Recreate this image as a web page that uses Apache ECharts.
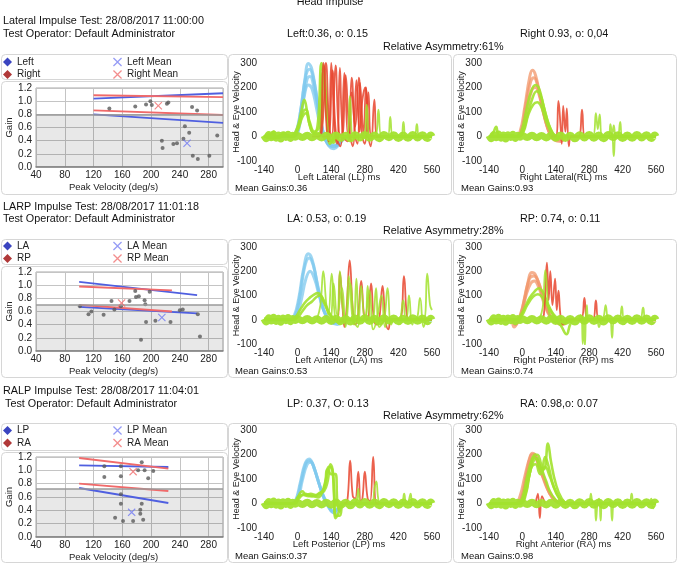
<!DOCTYPE html>
<html>
<head>
<meta charset="utf-8">
<title>Head Impulse</title>
<script src="https://cdn.jsdelivr.net/npm/echarts@6/dist/echarts.min.js"></script>
<style>
html,body{margin:0;padding:0;background:#fff;}
#main{width:683px;height:566px;}
</style>
</head>
<body>
<div id="main"></div>
<script>
// ---------- gain / peak velocity scatter data  [deg/s, gain]
var latPoints = [[142,0.89],[178,0.92],[193,0.95],[199,1.00],[201,0.94],[222,0.96],[224,0.98],[257,0.91],[264,0.86],[247,0.62],[253,0.52],[245,0.43],[215,0.40],[216,0.29],[231,0.35],[236,0.36],[258,0.17],[265,0.12],[281,0.17],[292,0.48]];
var latLeftMean = [[250,0.36]];
var latRightMean = [[210,0.93]];
var latLeftUpper = [[120,1.04],[300,1.12]];
var latLeftLower = [[120,0.80],[300,0.67]];
var latRightUpper = [[120,1.09],[300,1.06]];
var latRightLower = [[120,0.86],[300,0.79]];

var larpPoints = [[101,0.68],[113,0.56],[117,0.60],[134,0.55],[145,0.76],[149,0.63],[158,0.68],[170,0.76],[178,0.91],[179,0.82],[183,0.83],[186,0.17],[191,0.77],[192,0.71],[193,0.44],[198,0.90],[206,0.46],[227,0.44],[240,0.62],[244,0.63],[265,0.56],[268,0.22]];
var laMean = [[215,0.51]];
var rpMean = [[159,0.73]];
var laUpper = [[100,1.05],[264,0.85]];
var laLower = [[100,0.67],[264,0.57]];
var rpUpper = [[100,0.98],[229,0.92]];
var rpLower = [[100,0.70],[229,0.60]];

var ralpPoints = [[135,1.06],[135,0.90],[158,1.06],[158,0.91],[158,0.64],[158,0.50],[150,0.29],[161,0.24],[175,0.24],[182,1.00],[187,1.12],[191,1.00],[187,0.50],[185,0.41],[185,0.35],[189,0.26],[196,0.88],[203,0.99]];
var lpMean = [[173,0.37]];
var raMean = [[175,0.98]];
var lpUpper = [[100,1.075],[224,1.05]];
var lpLower = [[100,0.735],[224,0.51]];
var raUpper = [[100,1.185],[224,1.025]];
var raLower = [[100,0.80],[224,0.69]];

var shadeLimits = [0.8, 0.7, 0.72];

// ---------- velocity traces [ms, deg/s]
var baseNoise = [[-140,4],[-130,-9],[-120,8],[-110,-5],[-100,10],[-90,-7],[-80,6],[-70,-10],[-60,7],[-50,-4],[-40,9],[-30,-8],[-20,5],[-10,-3],[0,4],[20,-4],[40,5],[60,-5],[80,4],[100,-6],[120,5],[140,-7],[160,6],[180,-8],[200,5],[220,-9],[240,7],[260,-6],[280,8],[300,-7],[320,6],[340,-9],[360,8],[380,-5],[400,7],[420,-8],[440,6],[460,-7],[480,8],[500,-6],[520,7],[540,-8],[555,6],[560,0]];

// Left Lateral
var llHead = [
  [[-140,0],[-30,0],[-10,10],[10,90],[30,230],[45,298],[58,280],[75,190],[95,70],[112,0],[130,-38],[152,-50],[175,-30],[200,-5],[230,0],[560,0]],
  [[-140,0],[-25,0],[-5,15],[15,120],[35,250],[50,275],[65,240],[85,130],[105,20],[125,-30],[150,-42],[180,-20],[210,0],[560,0]],
  [[-140,0],[-20,0],[0,20],[20,130],[40,235],[52,245],[68,200],[90,90],[110,5],[135,-35],[160,-38],[190,-10],[220,0],[560,0]],
  [[-140,0],[-15,0],[5,30],[25,150],[45,210],[60,195],[80,110],[100,20],[125,-25],[155,-35],[185,-10],[210,0],[560,0]]
];
var llEye = [
  [[-140,5],[-120,-5],[-100,20],[-90,0],[-70,5],[-55,15],[-40,0],[-20,5],[0,40],[15,100],[28,150],[40,100],[55,30],[70,15],[85,60],[100,300],[112,220],[125,40],[140,-20],[160,5],[180,0],[560,0]],
  [[-140,0],[-110,10],[-80,-5],[-50,5],[-20,0],[0,30],[20,95],[35,110],[50,60],[70,20],[90,40],[105,260],[118,150],[130,10],[150,-25],[175,0],[560,0]],
  [[-140,0],[-100,-8],[-60,8],[-20,0],[0,25],[20,80],[35,95],[50,50],[70,10],[95,20],[108,290],[122,120],[135,-30],[155,-10],[180,0],[560,0]]
];
var llRed = [
  [[60,0],[90,0],[107,300],[122,20],[130,-20],[140,300],[155,20],[165,-30],[176,280],[190,0],[210,-20],[225,240],[240,0],[250,-30],[260,220],[275,10],[285,200],[300,-10],[310,0],[330,0]],
  [[80,0],[100,10],[118,300],[132,40],[142,0],[158,290],[172,20],[185,0],[200,250],[215,30],[230,-40],[245,230],[258,20],[270,150],[282,200],[295,0],[305,-40],[320,150],[332,0],[350,0]],
  [[100,0],[125,0],[145,270],[160,10],[178,-40],[195,260],[210,0],[225,180],[240,40],[255,240],[268,10],[280,-30],[295,180],[308,0],[330,0]]
];
var llSac = [
  [[180,0],[205,0],[218,165],[232,0],[275,0],[288,130],[302,-5],[325,0],[337,110],[350,0],[375,0],[386,80],[398,0],[430,0],[441,60],[452,0],[485,0],[497,50],[508,0],[560,0]]
];

// Right Lateral
var rlHead = [
  [[-140,0],[-30,0],[-10,20],[10,120],[30,240],[42,270],[55,250],[75,160],[95,70],[115,10],[135,-15],[160,-20],[190,0],[560,0]],
  [[-140,0],[-25,0],[-5,20],[15,130],[35,225],[48,240],[62,215],[85,120],[105,40],[125,0],[150,-15],[180,0],[560,0]],
  [[-140,0],[-20,0],[0,15],[20,110],[40,190],[55,200],[70,170],[90,90],[112,20],[135,-10],[165,0],[560,0]]
];
var rlEye = [
  [[-140,0],[-125,10],[-110,40],[-100,5],[-80,0],[-40,5],[-25,0],[-5,20],[15,100],[35,180],[55,210],[70,195],[90,120],[110,50],[130,10],[145,-10],[165,5],[190,0],[560,0]],
  [[-140,0],[-60,5],[-20,0],[0,15],[20,80],[40,150],[60,185],[75,170],[95,100],[118,30],[140,0],[560,0]],
  [[-140,0],[-15,0],[5,20],[25,90],[45,130],[62,140],[80,120],[100,60],[125,10],[150,-5],[175,0],[560,0]]
];
var rlRed = [
  [[120,0],[140,0],[151,145],[160,40],[165,-30],[171,125],[180,20],[186,115],[195,-40],[205,0],[235,0],[250,110],[262,0],[290,0]]
];
var rlSac = [
  [[260,0],[295,0],[308,95],[316,30],[324,90],[335,0],[360,0],[369,50],[376,5],[383,45],[392,0],[400,0],[410,60],[420,0],[460,0]],
  [[360,0],[374,0],[383,-80],[392,0],[405,0]]
];

// Left Anterior
var laHead = [
  [[-140,0],[-35,0],[-15,15],[5,90],[25,210],[45,272],[60,250],[80,160],[100,70],[120,15],[140,-10],[165,-20],[190,-5],[220,0],[560,0]],
  [[-140,0],[-30,0],[-10,15],[10,100],[30,220],[48,255],[65,225],[85,130],[105,50],[125,5],[150,-15],[180,-5],[210,0],[560,0]],
  [[-140,0],[-25,0],[-5,10],[15,80],[35,170],[52,200],[70,170],[90,100],[112,30],[135,0],[160,-10],[190,0],[560,0]]
];
var laEye = [
  [[-140,5],[-30,0],[-10,10],[10,40],[30,70],[50,90],[70,105],[85,110],[100,95],[118,60],[135,20],[155,0],[180,-5],[200,0],[560,0]],
  [[-140,0],[-20,0],[0,10],[20,35],[40,60],[60,75],[80,95],[95,100],[110,70],[130,30],[150,5],[170,-10],[195,0],[560,0]]
];
var laRed = [
  [[150,0],[165,0],[176,195],[188,40],[195,-30],[205,60],[217,245],[230,40],[240,-20],[252,20],[265,160],[278,10],[290,0],[306,150],[318,0],[330,-20],[340,0],[354,140],[366,0],[378,-40],[392,0],[425,0],[443,180],[455,20],[465,0],[560,0]]
];
var laSac = [
  [[80,0],[95,60],[107,200],[120,60],[128,20],[142,190],[155,20],[165,0],[176,200],[190,30],[200,0],[213,180],[228,10],[235,-20],[245,170],[260,0],[280,0],[292,140],[305,-10],[315,0],[327,130],[340,-30],[360,0],[375,130],[390,-20],[405,0],[450,0],[464,100],[478,-20],[490,0],[525,0],[540,190],[552,60],[560,40]],
  [[120,0],[135,0],[150,150],[165,20],[185,130],[200,-30],[220,150],[235,0],[250,-30],[265,140],[280,0],[300,120],[315,-40],[330,0],[350,100],[365,-30],[380,0],[420,0],[440,80],[455,0],[490,0],[510,90],[525,-30],[540,0],[560,0]]
];

// Right Posterior
var rpHead = [
  [[-140,0],[-50,0],[-35,-30],[-20,-10],[0,50],[20,140],[40,195],[55,185],[75,130],[95,70],[115,20],[135,0],[160,-20],[190,-10],[220,0],[560,0]],
  [[-140,0],[-40,0],[-30,-20],[-10,10],[10,90],[30,170],[48,180],[65,160],[85,100],[105,40],[128,0],[150,-10],[180,0],[560,0]],
  [[-140,0],[-25,0],[-5,20],[15,100],[35,150],[50,160],[70,130],[90,70],[112,20],[135,0],[560,0]]
];
var rpEye = [
  [[-140,5],[-110,-5],[-60,5],[-30,0],[-10,15],[10,50],[30,90],[50,115],[69,130],[85,115],[105,70],[125,30],[145,5],[165,-30],[185,-60],[200,-20],[215,0],[560,0]],
  [[-140,0],[-20,0],[0,20],[20,60],[45,95],[65,105],[85,90],[110,50],[135,10],[160,-20],[180,-10],[200,0],[560,0]]
];
var rpRed = [
  [[80,0],[90,20],[103,235],[110,80],[117,200],[126,60],[137,170],[144,40],[151,120],[162,0],[175,-20],[190,0],[245,0],[260,90],[272,0],[295,0],[308,80],[320,0],[340,0]]
];
var rpSac = [
  [[70,0],[85,50],[96,205],[108,60],[120,0],[140,-10],[230,0],[245,20],[253,-100],[258,10],[262,-110],[270,60],[280,0],[310,0],[321,-30],[330,0],[340,10],[349,60],[360,0],[368,0],[376,-75],[386,0],[405,0],[417,55],[428,0],[490,0],[506,50],[518,0],[560,0]]
];

// Left Posterior
var lpHead = [
  [[-140,0],[-30,0],[-10,10],[10,80],[30,160],[48,182],[62,165],[80,110],[100,50],[120,5],[140,-30],[155,-40],[175,-15],[200,0],[560,0]],
  [[-140,0],[-25,0],[-5,15],[15,90],[35,165],[50,175],[65,155],[85,95],[105,35],[125,-5],[148,-35],[170,-20],[195,0],[560,0]],
  [[-140,0],[-20,0],[0,15],[20,95],[40,160],[55,168],[70,140],[90,80],[110,20],[130,-15],[155,-30],[180,-5],[205,0],[560,0]]
];
var lpEye = [
  [[-140,5],[-20,0],[0,25],[20,50],[35,35],[55,40],[75,35],[95,45],[110,50],[125,90],[137,160],[148,120],[158,-60],[170,-40],[185,0],[560,0]],
  [[-140,0],[-10,0],[5,30],[25,35],[45,30],[65,30],[85,25],[100,40],[118,100],[130,150],[144,140],[152,40],[160,-50],[175,-50],[195,0],[560,0]],
  [[-140,0],[-15,0],[5,20],[30,40],[60,30],[85,35],[110,60],[125,140],[140,120],[158,120],[166,0],[175,-30],[190,0],[560,0]]
];
var lpRed = [
  [[195,0],[207,10],[219,175],[230,30],[240,20],[253,130],[263,10],[270,20],[280,130],[292,20],[302,10],[315,190],[328,0],[340,0]]
];
var lpSac = [
  [[230,0],[245,10],[253,60],[262,0],[310,0],[320,60],[328,90],[336,20],[345,0],[430,0],[444,40],[452,0],[462,10],[471,40],[480,0],[560,0]]
];

// Right Anterior
var raHead = [
  [[-140,0],[-30,0],[-10,30],[10,110],[30,185],[42,205],[55,195],[75,140],[100,70],[125,25],[150,5],[175,0],[560,0]],
  [[-140,0],[-25,0],[-5,20],[15,110],[35,195],[48,200],[62,180],[85,120],[110,55],[135,15],[160,0],[560,0]],
  [[-140,0],[-20,0],[0,20],[20,120],[40,180],[52,190],[68,150],[90,100],[115,40],[140,10],[165,0],[560,0]]
];
var raEye = [
  [[-140,0],[-20,0],[0,25],[20,110],[40,180],[55,200],[68,195],[85,130],[100,90],[115,50],[135,20],[160,0],[560,0]],
  [[-140,0],[-15,0],[5,20],[25,100],[45,170],[60,185],[72,150],[90,140],[107,245],[120,170],[140,80],[165,20],[190,0],[560,0]],
  [[-140,0],[-10,0],[10,30],[30,120],[50,190],[65,170],[80,130],[95,190],[110,150],[130,70],[155,20],[180,0],[560,0]],
  [[-140,0],[-10,0],[15,40],[35,140],[55,160],[75,120],[95,150],[115,110],[140,50],[165,10],[200,0],[560,0]]
];
var raRed = [
  [[55,0],[65,40],[73,-60],[82,30],[95,0]]
];
var raSac = [
  [[260,0],[280,10],[287,40],[295,0],[302,10],[308,-70],[316,10],[322,20],[328,-70],[336,0],[360,0],[368,10],[376,-70],[385,0],[445,0],[458,40],[468,0],[530,0],[540,20],[548,-20],[556,0]]
];

// ---------- texts
var rowTitles = ['Lateral Impulse Test: 28/08/2017 11:00:00', 'LARP Impulse Test: 28/08/2017 11:01:18', 'RALP Impulse Test: 28/08/2017 11:04:01'];
var leftStats = ['Left:0.36, o: 0.15', 'LA: 0.53, o: 0.19', 'LP: 0.37, O: 0.13'];
var rightStats = ['Right 0.93, o: 0,04', 'RP: 0.74, o: 0.11', 'RA: 0.98,o: 0.07'];
var asymTexts = ['Relative Asymmetry:61%', 'Relative Asymmetry:28%', 'Relative Asymmetry:62%'];
var leftTraceNames = ['Left Lateral (LL) ms', 'Left Anterior (LA) ms', 'Left Posterior (LP) ms'];
var rightTraceNames = ['Right Lateral(RL) ms', 'Right Posterior (RP) ms', 'Right Anterior (RA) ms'];
var leftGainTexts = ['Mean Gains:0.36', 'Mean Gains:0.53', 'Mean Gains:0.37'];
var rightGainTexts = ['Mean Gains:0.93', 'Mean Gains:0.74', 'Mean Gains:0.98'];
var legendNames = [['Left', 'Right', 'Left Mean', 'Right Mean'], ['LA', 'RP', 'LA Mean', 'RP Mean'], ['LP', 'RA', 'LP Mean', 'RA Mean']];

var FONT = 'Liberation Sans, Arial, Helvetica, sans-serif';
var FS = 9.5;   // text size inside the panels
var GREEN = '#a2e22e', RED = '#e8452e', BLUE_H = '#7dc8ee', ORANGE_H = '#f2956a';
var BAND_BLUE = '#4f5fe0', BAND_RED = '#f06a6a';
var CROSS = 'path://M1,0L5,4L9,0L10,1L6,5L10,9L9,10L5,6L1,10L0,9L4,5L0,1Z';

var chart = echarts.init(document.getElementById('main'));

// layout of each row (pixels)
var rows = [
  {sTop: 88, sH: 79, tTop: 63, tH: 98, titleY: 21, opY: 34, statY: 34, asymY: 47, legTop: 56.5, box: 54, legBottom: 79, boxBottom: 194},
  {sTop: 272, sH: 79, tTop: 247, tH: 97, titleY: 207, opY: 219, statY: 219, asymY: 231, legTop: 240.5, box: 239, legBottom: 264, boxBottom: 377},
  {sTop: 457, sH: 80, tTop: 430, tH: 98, titleY: 391, opY: 404, statY: 404, asymY: 416, legTop: 425, box: 423, legBottom: 450, boxBottom: 562}
];

var grids = [], xAxes = [], yAxes = [], series = [], legends = [], graphics = [];

function scatterPanel(r, g, pts, lMean, rMean, lUp, lLow, rUp, rLow) {
  var L = rows[r], names = legendNames[r];
  grids.push({left: 36, top: L.sTop, width: 187, height: L.sH, show: true, backgroundColor: '#fff', borderColor: '#a8a8a8', borderWidth: 1});
  xAxes.push({type: 'value', gridIndex: g, min: 40, max: 300, interval: 40,
    name: 'Peak Velocity (deg/s)', nameLocation: 'middle', nameGap: 15, nameMoveOverlap: false,
    nameTextStyle: {fontSize: FS, color: '#222', padding: [0, 32, 0, 0]},
    axisLine: {show: true, lineStyle: {color: '#888', width: 1.5}}, axisTick: {show: false},
    axisLabel: {fontSize: FS + 0.5, color: '#222', margin: 3, showMaxLabel: false},
    splitLine: {show: true, lineStyle: {color: '#c4c4c4'}}});
  yAxes.push({type: 'value', gridIndex: g, min: 0, max: 1.2, interval: 0.2,
    name: 'Gain', nameLocation: 'middle', nameGap: 22, nameMoveOverlap: false, nameTextStyle: {fontSize: FS, color: '#222'},
    axisLine: {show: false}, axisTick: {show: false},
    axisLabel: {fontSize: FS + 0.5, color: '#222', margin: 4, formatter: function (v) { return v.toFixed(1); }},
    splitLine: {show: true, lineStyle: {color: '#c4c4c4'}}});
  series.push({type: 'scatter', xAxisIndex: g, yAxisIndex: g, data: pts, symbolSize: 4, silent: true,
    itemStyle: {color: '#5a5a5a'}, z: 4,
    markArea: {silent: true, itemStyle: {color: 'rgba(0,0,0,0.09)'}, data: [[{yAxis: 0}, {yAxis: shadeLimits[r]}]]},
    markLine: {silent: true, symbol: 'none', label: {show: false}, lineStyle: {color: '#9a9a9a', width: 1.5, type: 'solid'}, data: [{yAxis: shadeLimits[r]}]}});
  [lUp, lLow].forEach(function (d) {
    series.push({type: 'line', name: names[0], xAxisIndex: g, yAxisIndex: g, data: d, showSymbol: false, silent: true,
      itemStyle: {color: BAND_BLUE}, lineStyle: {color: BAND_BLUE, width: 1.8}, z: 3});
  });
  [rUp, rLow].forEach(function (d) {
    series.push({type: 'line', name: names[1], xAxisIndex: g, yAxisIndex: g, data: d, showSymbol: false, silent: true,
      itemStyle: {color: BAND_RED}, lineStyle: {color: BAND_RED, width: 1.8}, z: 3});
  });
  series.push({type: 'scatter', name: names[2], xAxisIndex: g, yAxisIndex: g, data: lMean, symbol: CROSS, symbolSize: 8, silent: true, itemStyle: {color: '#6f78f2'}, z: 5});
  series.push({type: 'scatter', name: names[3], xAxisIndex: g, yAxisIndex: g, data: rMean, symbol: CROSS, symbolSize: 8, silent: true, itemStyle: {color: '#f06a6a'}, z: 5});
  var common = {orient: 'vertical', top: L.legTop, itemWidth: 9, itemHeight: 9, itemGap: 1.5, selectedMode: false, padding: 0,
    textStyle: {fontSize: FS + 0.5, color: '#222', lineHeight: 11}};
  legends.push(Object.assign({left: 3, data: [
    {name: names[0], icon: 'diamond', itemStyle: {color: '#3a44c0'}},
    {name: names[1], icon: 'diamond', itemStyle: {color: '#b03838'}}]}, common));
  legends.push(Object.assign({left: 113, data: [
    {name: names[2], icon: CROSS, itemStyle: {color: '#7a82f2'}},
    {name: names[3], icon: CROSS, itemStyle: {color: '#f07070'}}]}, common));
}

function tracePanel(r, g, left, width, axisName, head, headColor, eye, red, sac) {
  var L = rows[r];
  grids.push({left: left, top: L.tTop, width: width, height: L.tH});
  xAxes.push({type: 'value', gridIndex: g, min: -140, max: 560, interval: 140,
    name: axisName, nameLocation: 'middle', nameGap: 11, nameMoveOverlap: false,
    nameTextStyle: {fontSize: FS, color: '#222', padding: [0, 18, 0, 0]},
    axisLine: {show: false}, axisTick: {show: false}, splitLine: {show: false},
    axisLabel: {fontSize: FS + 0.5, color: '#222', margin: 4}});
  yAxes.push({type: 'value', gridIndex: g, min: -100, max: 300, interval: 100,
    name: 'Head & Eye Velocity', nameLocation: 'middle', nameGap: 23, nameMoveOverlap: false, nameTextStyle: {fontSize: 9, color: '#222'},
    axisLine: {show: false}, axisTick: {show: false}, splitLine: {show: false},
    axisLabel: {fontSize: FS + 0.5, color: '#222', margin: 7}});
  function add(list, color, w, op) {
    list.forEach(function (d) {
      series.push({type: 'line', xAxisIndex: g, yAxisIndex: g, data: d, smooth: 0.45, showSymbol: false, silent: true,
        lineStyle: {color: color, width: w, opacity: op}, z: 3});
    });
  }
  add(head, headColor, 3, 0.75);
  add(eye, GREEN, 2.6, 0.9);
  add(red, RED, 1.8, 0.85);
  add(sac, GREEN, 1.8, 0.85);
  add([baseNoise], GREEN, 7, 0.95);
}

scatterPanel(0, 0, latPoints, latLeftMean, latRightMean, latLeftUpper, latLeftLower, latRightUpper, latRightLower);
tracePanel(0, 1, 264, 168, leftTraceNames[0], llHead, BLUE_H, llEye, llRed, llSac);
tracePanel(0, 2, 489, 167, rightTraceNames[0], rlHead, ORANGE_H, rlEye, rlRed, rlSac);
scatterPanel(1, 3, larpPoints, laMean, rpMean, laUpper, laLower, rpUpper, rpLower);
tracePanel(1, 4, 264, 168, leftTraceNames[1], laHead, BLUE_H, laEye, laRed, laSac);
tracePanel(1, 5, 489, 167, rightTraceNames[1], rpHead, ORANGE_H, rpEye, rpRed, rpSac);
scatterPanel(2, 6, ralpPoints, lpMean, raMean, lpUpper, lpLower, raUpper, raLower);
tracePanel(2, 7, 264, 168, leftTraceNames[2], lpHead, BLUE_H, lpEye, lpRed, lpSac);
tracePanel(2, 8, 489, 167, rightTraceNames[2], raHead, ORANGE_H, raEye, raRed, raSac);

function txt(x, y, s, align, size) {
  graphics.push({type: 'text', x: x, y: y, silent: true, style: {text: s, fill: '#111', font: (size || 10.8) + 'px ' + FONT,
    textAlign: align || 'left', textVerticalAlign: 'middle'}});
}
function box(x, y, w, h) {
  graphics.push({type: 'rect', silent: true, z: -10, shape: {x: x, y: y, width: w, height: h, r: 4},
    style: {fill: 'none', stroke: '#d6d6d6', lineWidth: 1}});
}

txt(330, 2, 'Head Impulse', 'center');
rows.forEach(function (L, r) {
  txt(3, L.titleY, rowTitles[r]);
  txt(r === 2 ? 5 : 3, L.opY, 'Test Operator: Default Administrator');
  txt(287, L.statY, leftStats[r]);
  txt(520, L.statY, rightStats[r]);
  txt(383, L.asymY, asymTexts[r]);
  box(1.5, L.box + 0.5, 226, L.legBottom - L.box);
  box(1.5, L.legBottom + 2.5, 226, L.boxBottom - L.legBottom - 2);
  box(228.5, L.box + 0.5, 223, L.boxBottom - L.box);
  box(453.5, L.box + 0.5, 223, L.boxBottom - L.box);
  var gy = L.boxBottom - 6;
  txt(235, gy, leftGainTexts[r], 'left', FS);
  txt(461, gy, rightGainTexts[r], 'left', FS);
});

var option = {
  animation: false,
  backgroundColor: '#fff',
  textStyle: {fontFamily: FONT},
  grid: grids,
  xAxis: xAxes,
  yAxis: yAxes,
  legend: legends,
  graphic: graphics,
  series: series
};
chart.setOption(option);
</script>
</body>
</html>
